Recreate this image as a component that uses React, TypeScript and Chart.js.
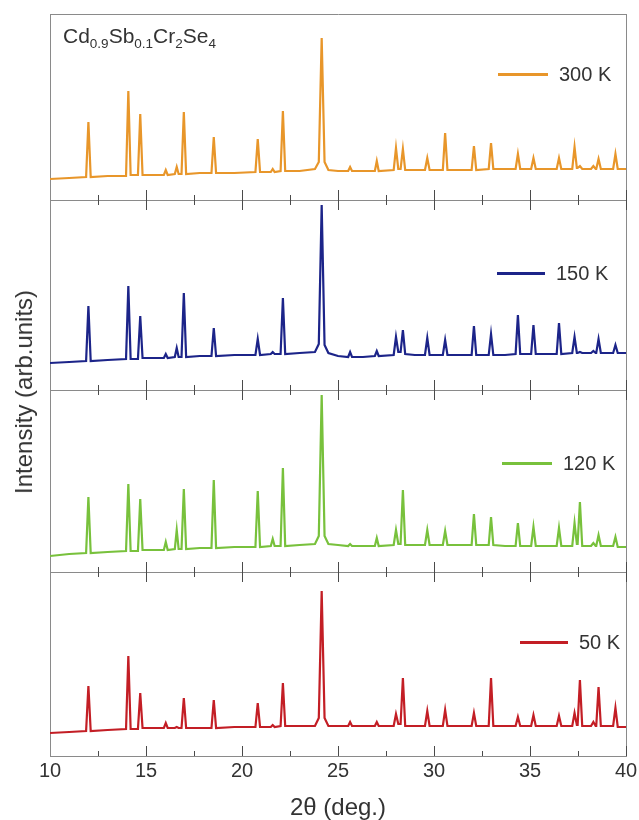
import React, { useEffect, useRef } from 'react';
import { Chart, registerables } from 'chart.js';

Chart.register(...registerables);

// 2θ sampling points (deg.), shared by all four patterns
const twoTheta = [
  10.0, 11.0,
  11.88, 12.0, 12.12,
  13.0,
  13.96, 14.08, 14.2,
  14.58, 14.7, 14.82,
  15.5,
  15.93, 16.03, 16.13,
  16.5, 16.6, 16.7,
  16.85, 16.97, 17.09,
  17.8,
  18.41, 18.53, 18.65,
  19.6,
  20.7, 20.82, 20.94,
  21.5, 21.6, 21.7,
  22.01, 22.13, 22.25,
  23.0, 23.8,
  24.0, 24.15, 24.3,
  24.5, 25.0,
  25.53, 25.63, 25.73,
  26.3,
  26.92, 27.02, 27.12,
  27.9, 28.02, 28.14,
  28.26, 28.38, 28.5,
  29.0,
  29.53, 29.65, 29.77,
  30.46, 30.58, 30.7,
  31.3,
  31.96, 32.08, 32.2,
  32.85, 32.97, 33.09,
  33.7,
  34.25, 34.37, 34.49,
  35.06, 35.18, 35.3,
  35.9,
  36.39, 36.51, 36.63,
  37.2, 37.32, 37.44,
  37.48, 37.6, 37.72,
  38.18, 38.3, 38.42,
  38.45, 38.57, 38.69,
  39.0,
  39.33, 39.45, 39.57,
  40.0,
];

// Intensities (arb. units)
const int300 = [
  21, 22,
  23, 78, 23,
  24,
  24, 109, 25,
  25, 86, 25,
  25,
  25, 30, 25,
  26, 33, 26,
  26, 88, 26,
  27,
  27, 63, 27,
  27,
  28, 61, 28,
  28, 31, 28,
  29, 89, 29,
  29, 31,
  38, 162, 38,
  30, 29,
  29, 33, 29,
  29,
  29, 39, 29,
  30, 52, 31,
  31, 51, 30,
  30,
  30, 42, 30,
  30, 67, 30,
  30,
  30, 54, 30,
  31, 57, 31,
  31,
  31, 46, 31,
  31, 42, 31,
  31,
  31, 42, 31,
  31, 53, 32,
  32, 34, 31,
  31, 34, 31,
  31, 41, 31,
  31,
  31, 46, 31,
  31,
];

const int150 = [
  27, 28,
  29, 84, 29,
  30,
  31, 104, 31,
  31, 74, 32,
  32,
  32, 36, 32,
  33, 42, 33,
  33, 97, 33,
  34,
  34, 62, 34,
  35,
  35, 51, 35,
  36, 38, 36,
  36, 92, 36,
  37, 38,
  46, 185, 45,
  37, 34,
  33, 38, 33,
  33,
  34, 39, 34,
  35, 53, 38,
  38, 60, 36,
  35,
  35, 52, 35,
  35, 50, 35,
  35,
  35, 64, 35,
  35, 56, 35,
  35,
  36, 75, 36,
  36, 65, 36,
  36,
  36, 67, 36,
  37, 53, 37,
  37, 38, 37,
  37, 39, 37,
  37, 51, 37,
  37,
  37, 45, 37,
  37,
];

const int120 = [
  16, 18,
  19, 75, 19,
  20,
  21, 88, 21,
  21, 73, 22,
  22,
  22, 30, 22,
  23, 42, 23,
  23, 83, 23,
  24,
  24, 92, 24,
  25,
  25, 81, 25,
  26, 33, 26,
  26, 104, 26,
  27, 28,
  36, 177, 36,
  28, 27,
  26, 28, 26,
  26,
  26, 34, 26,
  27, 42, 28,
  28, 82, 27,
  27,
  27, 42, 27,
  27, 41, 27,
  27,
  27, 58, 27,
  27, 55, 27,
  26,
  26, 49, 26,
  26, 45, 26,
  26,
  26, 44, 26,
  26, 49, 28,
  28, 70, 26,
  26, 29, 26,
  26, 37, 26,
  26,
  26, 35, 25,
  25,
];

const int50 = [
  23, 24,
  25, 70, 25,
  26,
  27, 100, 27,
  27, 63, 28,
  28,
  28, 33, 28,
  28, 29, 28,
  28, 58, 28,
  28,
  28, 56, 28,
  29,
  29, 53, 29,
  29, 31, 29,
  30, 73, 30,
  30, 30,
  38, 165, 38,
  30, 30,
  30, 34, 30,
  30,
  30, 34, 30,
  30, 42, 32,
  32, 78, 30,
  30,
  30, 45, 30,
  30, 46, 30,
  30,
  30, 43, 30,
  30, 78, 30,
  30,
  30, 39, 30,
  30, 41, 30,
  30,
  30, 40, 30,
  30, 43, 31,
  31, 76, 30,
  30, 34, 30,
  30, 69, 30,
  30,
  30, 48, 29,
  29,
];

const temperatures = ['300 K', '150 K', '120 K', '50 K'];
const intensityMax = [186, 190, 182, 184];
const xTickStep = 5;
const xMinorStep = 2.5;
const xRange = [10, 40];

const FONT = "'Liberation Sans', Arial, Helvetica, sans-serif";
const FRAME = '#8a8a8a';
const TICK = '#4a4a4a';
const TEXT = '#333333';
const COLORS = ['#E8962A', '#1C2489', '#78C13C', '#C31E25'];
const AXIS_IDS = ['y300', 'y150', 'y120', 'y50'];
const SERIES = [int300, int150, int120, int50];

const legendPlacement = [
  { left: 498, top: 74, lineW: 50 },
  { left: 497, top: 273, lineW: 48 },
  { left: 502, top: 463, lineW: 50 },
  { left: 520, top: 642, lineW: 48 },
];

export default function App() {
  const ref = useRef<HTMLCanvasElement>(null);

  useEffect(() => {
    const canvas = ref.current;
    if (!canvas) return;
    const scales: any = {};

    scales.x = {
      type: 'linear',
      axis: 'x',
      position: 'bottom',
      min: xRange[0],
      max: xRange[1],
      ticks: {
        stepSize: xTickStep,
        font: { family: FONT, size: 20, lineHeight: 2.4 },
        color: TEXT,
        padding: 1,
        maxRotation: 0,
      },
      grid: {
        drawOnChartArea: true,
        color: (c: any) =>
          c.tick && (c.tick.value === xRange[0] || c.tick.value === xRange[1]) ? FRAME : 'rgba(0,0,0,0)',
        lineWidth: 1,
        drawTicks: true,
        tickLength: -10,
        tickColor: TICK,
        tickWidth: 1,
      },
      border: { display: true, color: FRAME, width: 1 },
      title: {
        display: true,
        text: '2θ (deg.)',
        font: { family: FONT, size: 24, lineHeight: 1 },
        color: TEXT,
        padding: 0,
      },
    };

    AXIS_IDS.forEach((id, i) => {
      scales[id] = {
        type: 'linear',
        axis: 'y',
        position: 'left',
        stack: 'panels',
        stackWeight: intensityMax[i],
        weight: AXIS_IDS.length - i,
        min: 0,
        max: intensityMax[i],
        afterBuildTicks: (sc: any) => {
          sc.ticks = [{ value: sc.min }, { value: sc.max }];
        },
        ticks: { display: false },
        grid: { drawTicks: false, color: FRAME, lineWidth: 1 },
        border: { display: true, color: FRAME, width: 1 },
      };
    });

    const addTickAxis = (id: string, pos: any, step: number, len: number) => {
      scales[id] = {
        type: 'linear',
        axis: 'x',
        position: pos,
        min: xRange[0],
        max: xRange[1],
        ticks: { display: false, stepSize: step },
        grid: {
          drawOnChartArea: false,
          drawTicks: true,
          tickLength: len,
          tickColor: TICK,
          tickWidth: 1,
        },
        border: { display: false },
        title: { display: false },
      };
    };

    for (let i = 0; i < AXIS_IDS.length - 1; i++) {
      const up = AXIS_IDS[i];
      const dn = AXIS_IDS[i + 1];
      addTickAxis(`xMajUp${i}`, { [up]: 0 }, xTickStep, -10);
      addTickAxis(`xMinUp${i}`, { [up]: 0 }, xMinorStep, -5);
      addTickAxis(`xMajDn${i}`, { [dn]: intensityMax[i + 1] }, xTickStep, 10);
      addTickAxis(`xMinDn${i}`, { [dn]: intensityMax[i + 1] }, xMinorStep, 5);
    }
    addTickAxis('xMinBottom', { y50: 0 }, xMinorStep, -5);

    const chart = new Chart(canvas, {
      type: 'line',
      data: {
        datasets: SERIES.map((vals, i) => ({
          label: temperatures[i],
          data: twoTheta.map((x, j) => ({ x, y: vals[j] })),
          borderColor: COLORS[i],
          backgroundColor: COLORS[i],
          borderWidth: 2.2,
          pointRadius: 0,
          tension: 0,
          fill: false,
          xAxisID: 'x',
          yAxisID: AXIS_IDS[i],
        })),
      },
      options: {
        responsive: false,
        animation: false,
        devicePixelRatio: 1,
        layout: { padding: { left: 50, right: 13, top: 14, bottom: 0 } },
        plugins: {
          legend: { display: false },
          tooltip: { enabled: false },
          title: { display: false },
        },
        scales,
      } as any,
    });
    return () => chart.destroy();
  }, []);

  const sub: React.CSSProperties = { fontSize: 13.5, position: 'relative', top: 5 };

  return (
    <div
      style={{
        position: 'absolute',
        left: 0,
        top: 0,
        width: 639,
        height: 820,
        background: '#ffffff',
        fontFamily: FONT,
        color: TEXT,
      }}
    >
      <canvas ref={ref} width={639} height={820} style={{ display: 'block', width: 639, height: 820 }} />
      <div
        style={{
          position: 'absolute',
          left: 24,
          top: 391.5,
          transform: 'translate(-50%, -50%) rotate(-90deg)',
          fontSize: 24,
          lineHeight: 1,
          whiteSpace: 'nowrap',
        }}
      >
        Intensity (arb.units)
      </div>
      <div style={{ position: 'absolute', left: 63, top: 25, fontSize: 21, lineHeight: 1, whiteSpace: 'nowrap' }}>
        Cd<span style={sub}>0.9</span>Sb<span style={sub}>0.1</span>Cr<span style={sub}>2</span>Se
        <span style={sub}>4</span>
      </div>
      {temperatures.map((t, i) => (
        <div
          key={t}
          style={{
            position: 'absolute',
            left: legendPlacement[i].left,
            top: legendPlacement[i].top - 12,
            height: 24,
            display: 'flex',
            alignItems: 'center',
            whiteSpace: 'nowrap',
          }}
        >
          <div style={{ width: legendPlacement[i].lineW, height: 3, background: COLORS[i] }} />
          <span style={{ marginLeft: 11, fontSize: 20, lineHeight: '24px' }}>{t}</span>
        </div>
      ))}
    </div>
  );
}
